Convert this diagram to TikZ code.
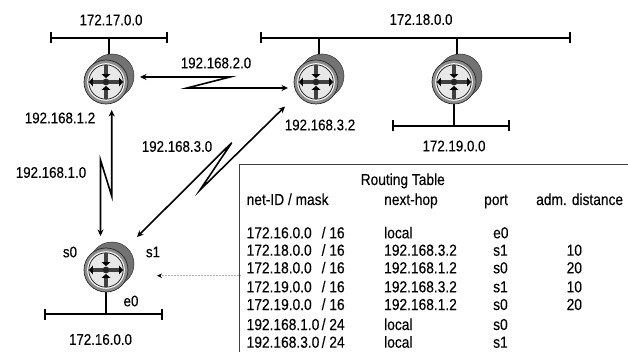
\documentclass[tikz,border=0pt]{standalone}
\usepackage{fontspec}
\setmainfont[FakeStretch=0.865,FakeBold=0.2]{Liberation Sans}
\usetikzlibrary{arrows.meta}
\tikzset{
  lbl/.style={inner sep=0pt,font=\fontsize{15.4}{17}\selectfont,anchor=center},
  cell/.style={inner sep=0pt,font=\fontsize{15.9}{17}\selectfont,anchor=base west},
  net/.style={line width=1.6pt,black},
  stem/.style={line width=2.2pt,black},
  lnk/.style={line width=1.6pt,black},
  both/.style={lnk,{Stealth[length=6.5pt,width=6pt]}-{Stealth[length=6.5pt,width=6pt]}},
  rarrow/.style={line width=3.4pt,draw=black!75,-{Triangle[length=3.8pt,width=8.5pt,black]}},
}
\newcommand{\rtr}[2]{%
  \begin{scope}[shift={(#1)}]
    \fill[black!55,draw=black!80,line width=.5pt] (6,-6) circle[radius=22];
    \fill[black!55] (3,-3) circle[radius=22];
    \fill[black!45,draw=black!85,line width=.7pt] (0,0) circle[radius=22];
    \fill[white] (0,0) circle[radius=18.8];
    \fill[black!9,draw=black!85,line width=.8pt] (0,0) circle[radius=17.2];
    \draw[rarrow] (0,-17) -- (0,-4);
    \draw[rarrow] (0,17) -- (0,4);
    \draw[rarrow] (3,0) -- (17,0);
    \draw[rarrow] (-3,0) -- (-17,0);
    \fill[black!85] (0,0) circle[radius=3.4];
    \coordinate (#2) at (0,0);
  \end{scope}}
\begin{document}
\begin{tikzpicture}[x=1pt,y=-1pt]
\useasboundingbox (0,0) rectangle (628,352);
\fill[white] (0,0) rectangle (628,352);
\coordinate (c1) at (106,82);
\coordinate (c2) at (316,82);
\coordinate (c3) at (454,82);
\coordinate (c4) at (106,270);

% LAN bars
\coordinate (b17l) at (51,38); \coordinate (b17r) at (167,38);
\coordinate (b18l) at (261,38); \coordinate (b18r) at (570,38);
\coordinate (b19l) at (393,126); \coordinate (b19r) at (509,126);
\coordinate (b16l) at (45,314); \coordinate (b16r) at (162,314);
\foreach \a/\b in {b17l/b17r,b18l/b18r,b19l/b19r,b16l/b16r}{
  \draw[net] (\a) -- (\b);
  \draw[net] ([yshift=-5.5pt]\a) -- ([yshift=5.5pt]\a);
  \draw[net] ([yshift=-5.5pt]\b) -- ([yshift=5.5pt]\b);
}
\coordinate (s1) at (109,38); \coordinate (s1e) at (109,58);
\coordinate (s2) at (319,38); \coordinate (s2e) at (319,58);
\coordinate (s3) at (457,38); \coordinate (s3e) at (457,58);
\coordinate (s4) at (454,126); \coordinate (s4e) at (454,100);
\coordinate (s5) at (106,314); \coordinate (s5e) at (106,288);
\foreach \a/\b in {s1/s1e,s2/s2e,s3/s3e,s4/s4e,s5/s5e} \draw[stem] (\a) -- (\b);

\rtr{c1}{r1}
\rtr{c2}{r2}
\rtr{c3}{r3}
\rtr{c4}{r4}

% serial links
\coordinate (l1a) at (140,77); \coordinate (l1b) at (230,77); \coordinate (l1c) at (187,88); \coordinate (l1d) at (288,88);
\draw[both] (l1a) -- (l1b) -- (l1c) -- (l1d);
\coordinate (l2a) at (111.7,110); \coordinate (l2b) at (111.7,196); \coordinate (l2c) at (100.5,160); \coordinate (l2d) at (100.5,236);
\draw[both] (l2a) -- (l2b) -- (l2c) -- (l2d);
\coordinate (l3a) at (137,237); \coordinate (l3b) at (231.7,142.7); \coordinate (l3c) at (200,190); \coordinate (l3d) at (285,106.5);
\draw[both] (l3a) -- (l3b) -- (l3c) -- (l3d);
\coordinate (d1) at (240,275.7); \coordinate (d2) at (157,275.7);
\draw[black!30,line width=.5pt,densely dotted,-{Stealth[length=5pt,width=4.5pt,black]}] (d1) -- (d2);

% labels
\node[lbl] (n17) at (111,20) {172.17.0.0};
\node[lbl] (n18) at (421,19.5) {172.18.0.0};
\node[lbl] (n19) at (454,146) {172.19.0.0};
\node[lbl] (n16) at (100.5,339.5) {172.16.0.0};
\node[lbl] (g2) at (216,63) {192.168.2.0};
\node[lbl] (g3) at (177,146.5) {192.168.3.0};
\node[lbl] (g1) at (51,172.5) {192.168.1.0};
\node[lbl] (a12) at (60,118) {192.168.1.2};
\node[lbl] (a32) at (320,125) {192.168.3.2};
\node[lbl] (p0) at (70,252) {s0};
\node[lbl] (p1) at (153,252) {s1};
\node[lbl] (p2) at (131,301) {e0};

% table
\coordinate (t0) at (628,165); \coordinate (t1) at (239,165); \coordinate (t2) at (239,352);
\draw[black!75,line width=1pt] (t0) -- (t1) -- (t2);
\node[cell] (tt) at (360.5,185) {Routing Table};
\node[cell] (h1) at (246.5,205) {net-ID / mask};
\node[cell] (h2) at (384,205) {next-hop};
\node[cell] (h3) at (484,205) {port};
\node[cell] (h4) at (536,205) {adm. distance};
\foreach \y/\n/\m/\h/\p/\d in {
 238.3/172.16.0.0/16/local/e0/,
 255.7/172.18.0.0/16/192.168.3.2/s1/10,
 273.3/172.18.0.0/16/192.168.1.2/s0/20,
 292.3/172.19.0.0/16/192.168.3.2/s1/10,
 310/172.19.0.0/16/192.168.1.2/s0/20,
 330/192.168.1.0/24/local/s0/,
 347.7/192.168.3.0/24/local/s1/}{
  \node[cell] at (246.5,\y) {\n};
  \node[cell] at (321.5,\y) {/ \m};
  \node[cell] at (384,\y) {\h};
  \node[cell] at (493,\y) {\p};
  \node[cell] at (566.5,\y) {\d};
}
\end{tikzpicture}
\end{document}
